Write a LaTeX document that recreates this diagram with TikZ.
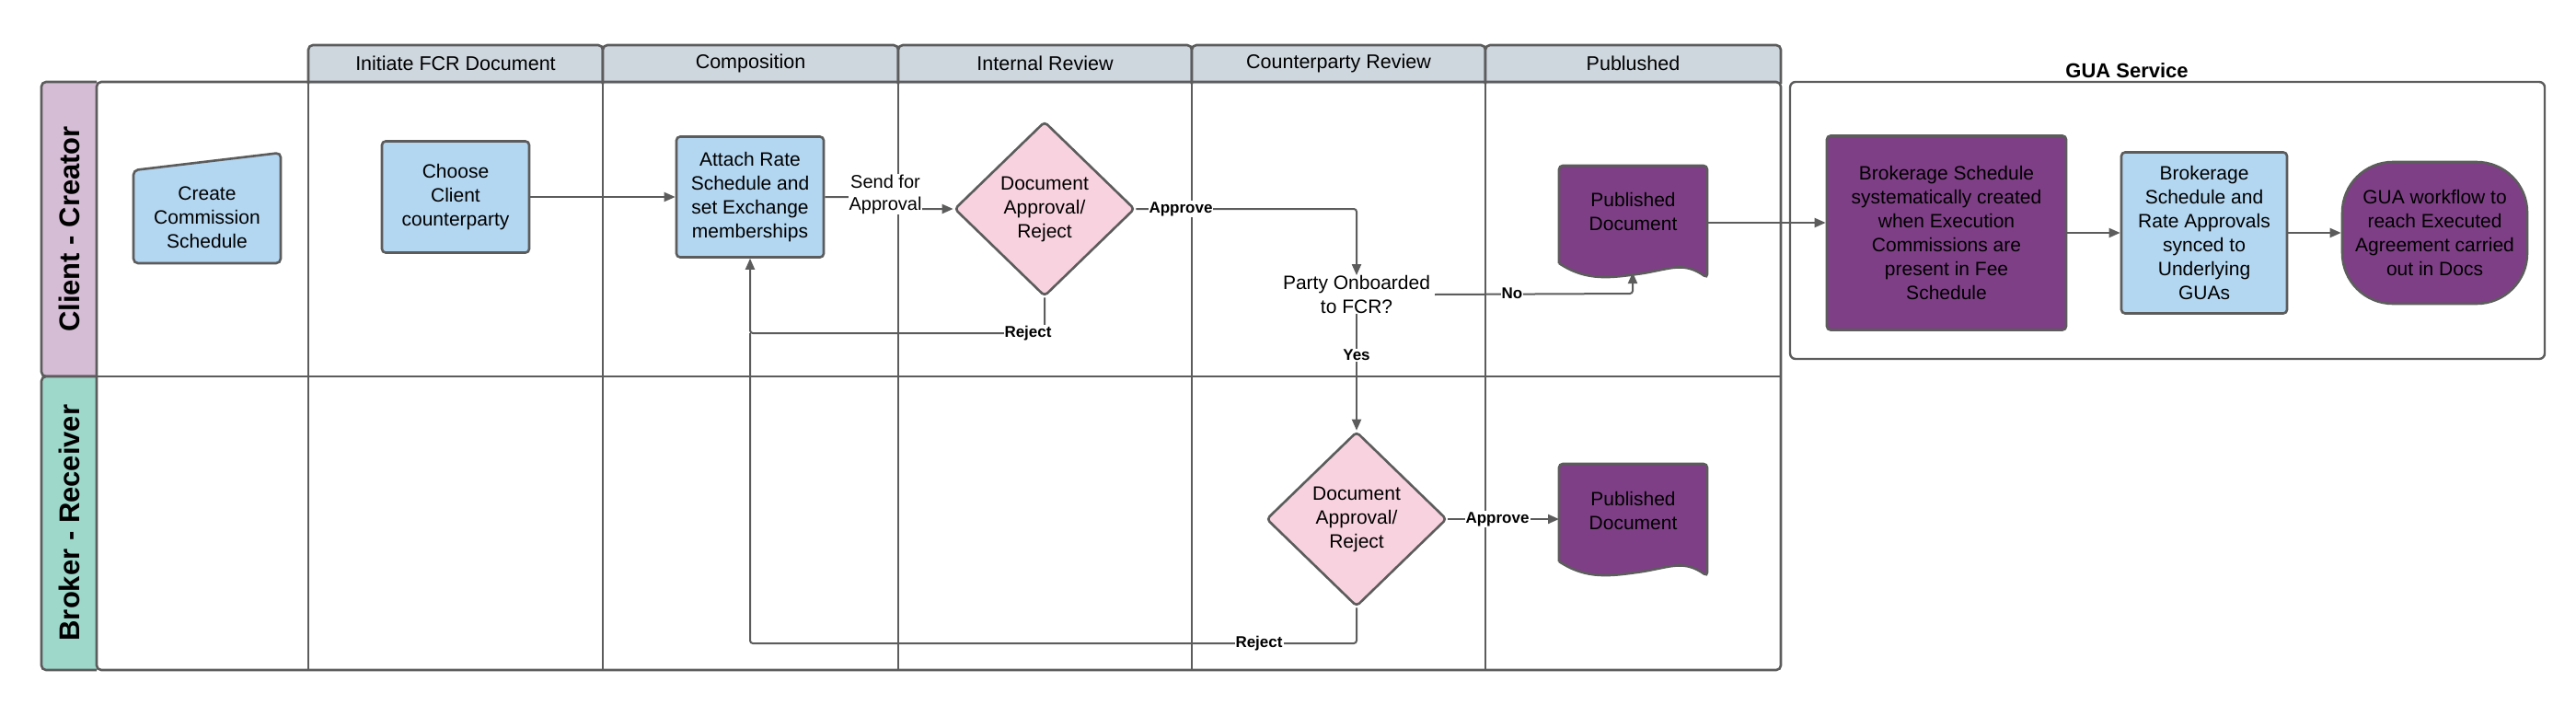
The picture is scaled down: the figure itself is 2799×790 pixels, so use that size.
\documentclass[tikz,border=0pt]{standalone}
\usepackage{fontspec}
\setmainfont{Liberation Sans}
\usetikzlibrary{shapes.geometric,arrows.meta}
\definecolor{ln}{HTML}{5C5C5C}
\definecolor{blu}{HTML}{B3D6F1}
\definecolor{pnk}{HTML}{F8D2DF}
\definecolor{pur}{HTML}{7E3F86}
\definecolor{hdr}{HTML}{CED6DE}
\definecolor{lanea}{HTML}{D5BDD5}
\definecolor{laneb}{HTML}{9DD8CB}
\begin{document}
\begin{tikzpicture}[x=1pt,y=-1pt,
  frame/.style={draw=ln,line width=2.6pt},
  conn/.style={draw=ln,line width=2pt,-{Triangle[length=12pt,width=10pt]},rounded corners=3pt},
  plain/.style={draw=ln,line width=2pt,rounded corners=3pt},
  txt/.style={font=\fontsize{21}{26}\selectfont,align=center,inner sep=0pt},
  box/.style={txt,draw=ln,line width=2.6pt,rounded corners=4pt,fill=blu},
  dia/.style={txt,diamond,draw=ln,line width=2.6pt,rounded corners=4pt,fill=pnk,minimum width=196pt,minimum height=190pt,aspect=1.03},
  lbl/.style={font=\bfseries\fontsize{17}{20}\selectfont,fill=white,inner sep=1pt},
  hd/.style={font=\fontsize{21.5}{26}\selectfont}]
\useasboundingbox (0,0) rectangle (2799,790);
% headers
\foreach \a/\b/\t [count=\i] in {335/655/Initiate FCR Document,655/976/Composition,976/1295/Internal Review,1295/1614/Counterparty Review,1614/1935/Publushed}{
  \draw[frame,fill=hdr,rounded corners=5pt] (\a,91) -- (\a,49) -- (\b,49) -- (\b,91);
  \node[hd] (h\i) at ({(\a+\b)/2},69) {\t};
}
% lane labels
\draw[frame,fill=lanea,rounded corners=5pt] (105,409) -- (45,409) -- (45,89) -- (105,89);
\draw[frame,fill=laneb,rounded corners=5pt] (105,409) -- (45,409) -- (45,728) -- (105,728);
\node[rotate=90,font=\bfseries\fontsize{31}{36}\selectfont] (la) at (75,249) {Client - Creator};
\node[rotate=90,font=\bfseries\fontsize{31}{36}\selectfont] (lb) at (75,568) {Broker - Receiver};
% grid
\draw[frame,rounded corners=5pt] (105,89) -- (1935,89) -- (1935,728) -- (105,728) -- cycle;
\draw[frame] (105,409) -- (1935,409);
\foreach \x in {335,655,976,1295,1614}{\draw[frame] (\x,89) -- (\x,728);}
% GUA service
\draw[frame,line width=2.4pt,rounded corners=6pt] (1945,89) rectangle (2765,390);
\node[font=\bfseries\fontsize{22}{26}\selectfont] (gt) at (2311,77) {GUA Service};
% nodes
\draw[frame,fill=blu,rounded corners=5pt] (145,286) -- (145,185) -- (305,166) -- (305,286) -- cycle;
\node[txt] (ccs) at (225,236) {Create\\Commission\\Schedule};
\node[box,minimum width=160pt,minimum height=121pt] (cc) at (495,214) {Choose\\Client\\counterparty};
\node[box,minimum width=160pt,minimum height=131pt] (att) at (815,214) {Attach Rate\\Schedule and\\set Exchange\\memberships};
\node[dia] (d1) at (1135,227) {Document\\Approval/\\Reject};
\node[txt] (party) at (1474,320) {Party Onboarded\\to FCR?};
\node[dia] (d2) at (1474,564) {Document\\Approval/\\Reject};
% documents
\foreach \n/\cy in {p1/241,p2/565}{
  \path (1694,{\cy-61}) coordinate (\n nw) (1855,{\cy-61}) coordinate (\n ne) (1855,{\cy+61}) coordinate (\n se) (1694,{\cy+45}) coordinate (\n sw);
  \draw[frame,fill=pur,rounded corners=4pt] (\n sw) -- (\n nw) -- (\n ne) -- (\n se) [sharp corners] .. controls +(-25,-18) and +(30,-5) .. +(-70,-5) .. controls +(-35,5) and +(30,20) .. (\n sw);
}
\node[txt,text=black] (pd1) at (1774.5,230) {Published\\Document};
\node[txt,text=black] (pd2) at (1774.5,555) {Published\\Document};
\coordinate (p1b) at (1774,296);
% GUA nodes
\node[box,fill=pur,minimum width=260pt,minimum height=211pt] (bs) at (2115,253) {Brokerage Schedule\\systematically created\\when Execution\\Commissions are\\present in Fee\\Schedule};
\node[box,minimum width=180pt,minimum height=175pt] (br) at (2395,253) {Brokerage\\Schedule and\\Rate Approvals\\synced to\\Underlying\\GUAs};
\node[box,fill=pur,rounded corners=55pt,minimum width=201pt,minimum height=154pt] (gw) at (2645.5,253) {GUA workflow to\\reach Executed\\Agreement carried\\out in Docs};
% connectors
\draw[conn] (cc.east) -- (att.west);
\draw[conn] (att.east) -- (960,214) -- (960,227) -- (d1.west);
\node[txt,fill=white,inner sep=1pt,font=\fontsize{20}{24}\selectfont] (sfa) at (962,211) {Send for\\Approval};
\draw[conn] (d1.east) -- (1474,227) -- (party.north);
\node[lbl] (ap1) at (1283,227) {Approve};
\draw[conn] (party.east) ++(5,0) coordinate (pe) (pe) -- (1774,319) -- (p1b);
\node[lbl] (no) at (1643,319) {No};
\draw[conn] (party.south) -- (d2.north);
\node[lbl] (yes) at (1474,386) {Yes};
\draw[conn] (d2.east) -- (1694,564);
\node[lbl] (ap2) at (1627,564) {Approve};
\draw[conn] (d1.south) -- (1135,362) -- (815,362) -- (att.south);
\node[lbl] (rj1) at (1117,362) {Reject};
\draw[plain] (d2.south) -- (1474,699) -- (815,699) -- (815,362);
\node[lbl] (rj2) at (1368,699) {Reject};
\draw[conn] (1855,242) -- (bs.west |- 0,242);
\draw[conn] (bs.east) -- (br.west);
\draw[conn] (br.east) -- (gw.west);
\end{tikzpicture}
\end{document}
